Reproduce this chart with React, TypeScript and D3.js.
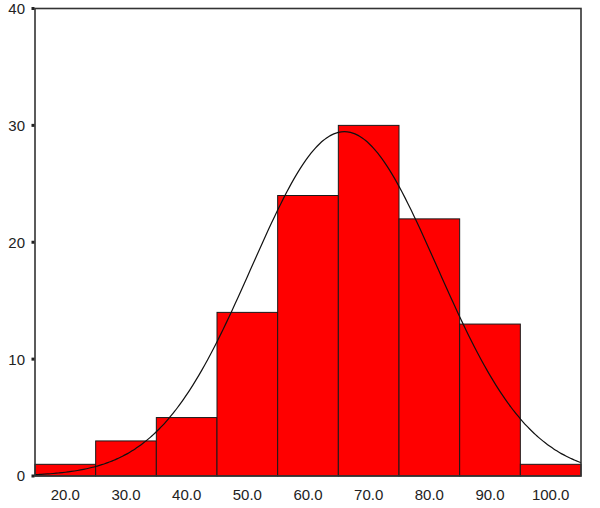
import React from "react";
import * as d3 from "d3";

const binCenters = [20, 30, 40, 50, 60, 70, 80, 90, 100];
const counts = [1, 3, 5, 14, 24, 30, 22, 13, 1];
const yTicks = [0, 10, 20, 30, 40];
const xTickLabels = ["20.0", "30.0", "40.0", "50.0", "60.0", "70.0", "80.0", "90.0", "100.0"];
const fitMean = 66;
const fitSd = 15.3;
const binWidth = 10;

export default function App() {
  const W = 600, H = 508;
  const L = 35, R = 581, T = 8.5, B = 476;
  const x = d3.scaleLinear().domain([15, 105]).range([L, R]);
  const y = d3.scaleLinear().domain([0, 40]).range([B, T]);
  const N = d3.sum(counts);
  const pdf = (v: number) =>
    (N * binWidth) / (fitSd * Math.sqrt(2 * Math.PI)) * Math.exp(-0.5 * ((v - fitMean) / fitSd) ** 2);
  const pts = d3.range(15, 105.01, 0.5).map((v) => [v, pdf(v)] as [number, number]);
  const line = d3.line<[number, number]>().x((d) => x(d[0])).y((d) => y(d[1])).curve(d3.curveBasis);
  const font = "'Liberation Sans', Arial, sans-serif";
  return (
    <svg width={W} height={H} style={{ position: "absolute", left: 0, top: 0, background: "#fff" }}>
      <rect x={0} y={0} width={W} height={H} fill="#fff" />
      {binCenters.map((c, i) => (
        <rect
          key={c}
          x={x(c - binWidth / 2)}
          y={y(counts[i])}
          width={x(c + binWidth / 2) - x(c - binWidth / 2)}
          height={B - y(counts[i])}
          fill="#ff0000"
          stroke="#1a1a1a"
          strokeWidth={1}
        />
      ))}
      <path d={line(pts) || ""} fill="none" stroke="#111" strokeWidth={1.2} />
      <rect x={L} y={T} width={R - L} height={B - T} fill="none" stroke="#333" strokeWidth={1.6} />
      {yTicks.map((t) => (
        <g key={t}>
          <rect x={L - 3.5} y={y(t) - 1.5} width={3} height={3} fill="#222" />
          <text x={25} y={y(t)} dy="0.36em" textAnchor="end" fontFamily={font} fontSize={15} fill="#222">
            {t}
          </text>
        </g>
      ))}
      {binCenters.map((c, i) => (
        <text key={c} x={x(c)} y={500} textAnchor="middle" fontFamily={font} fontSize={15} fill="#222">
          {xTickLabels[i]}
        </text>
      ))}
    </svg>
  );
}
